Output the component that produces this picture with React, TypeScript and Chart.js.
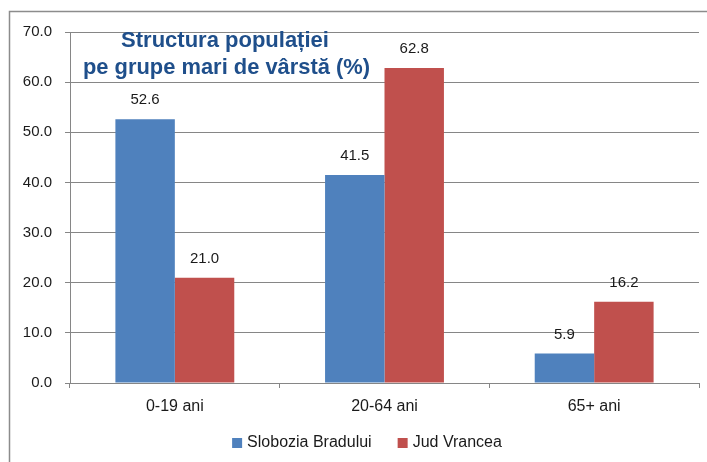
import React, { useEffect, useRef } from "react";
import { Chart, registerables } from "chart.js";

Chart.register(...registerables);

const categories = ["0-19 ani", "20-64 ani", "65+ ani"];
const sloboziaValues = [52.6, 41.5, 5.9];
const vranceaValues = [21.0, 62.8, 16.2];
const seriesNames = ["Slobozia Bradului", "Jud Vrancea"];
const seriesColors = ["#4f81bd", "#c0504d"];
const titleLines = ["Structura populației", "pe grupe mari de vârstă (%)"];
const yTicks = { min: 0, max: 70, step: 10 };

const FONT = "'Liberation Sans', Arial, sans-serif";

const frame = {
  id: "frame",
  beforeDraw(chart: any) {
    const ctx = chart.ctx;
    ctx.save();
    ctx.fillStyle = "#ffffff";
    ctx.fillRect(0, 0, chart.width, chart.height);
    ctx.strokeStyle = "#8c8c8c";
    ctx.lineWidth = 1.5;
    ctx.strokeRect(9.5, 11.5, chart.width + 20, chart.height + 20);
    ctx.restore();
  },
};

const valueLabels = {
  id: "valueLabels",
  afterDatasetsDraw(chart: any) {
    const ctx = chart.ctx;
    ctx.save();
    ctx.font = `15px ${FONT}`;
    ctx.fillStyle = "#1a1a1a";
    ctx.textAlign = "center";
    ctx.textBaseline = "middle";
    chart.data.datasets.forEach((ds: any, i: number) => {
      const meta = chart.getDatasetMeta(i);
      meta.data.forEach((bar: any, j: number) => {
        ctx.fillText(Number(ds.data[j]).toFixed(1), bar.x, bar.y - 19, 32);
      });
    });
    ctx.restore();
  },
};

const titleText = {
  id: "titleText",
  afterDraw(chart: any) {
    const ctx = chart.ctx;
    ctx.save();
    ctx.font = `bold 22px ${FONT}`;
    ctx.fillStyle = "#1f4f8b";
    ctx.textAlign = "center";
    ctx.textBaseline = "middle";
    ctx.fillText(titleLines[0], 225, 41, 210);
    ctx.fillText(titleLines[1], 226.5, 68, 287);
    ctx.restore();
  },
};

const customLegend = {
  id: "customLegend",
  afterDraw(chart: any) {
    const ctx = chart.ctx;
    ctx.save();
    ctx.font = `16px ${FONT}`;
    ctx.textBaseline = "middle";
    ctx.textAlign = "left";
    const box = 10;
    const gapText = 5;
    const gapItem = 26;
    const dsets = chart.data.datasets;
    const widths = dsets.map((d: any) => box + gapText + ctx.measureText(d.label).width);
    const total = widths.reduce((a: number, b: number) => a + b, 0) + gapItem * (dsets.length - 1);
    let x = 367 - total / 2;
    const y = 443;
    dsets.forEach((d: any, i: number) => {
      ctx.fillStyle = d.backgroundColor;
      ctx.fillRect(x, y - box / 2, box, box);
      ctx.fillStyle = "#1a1a1a";
      ctx.fillText(d.label, x + box + gapText, y);
      x += widths[i] + gapItem;
    });
    ctx.restore();
  },
};

export default function App() {
  const ref = useRef<HTMLCanvasElement | null>(null);
  useEffect(() => {
    if (!ref.current) return;
    const chart = new Chart(ref.current, {
      type: "bar",
      data: {
        labels: categories,
        datasets: [
          {
            label: seriesNames[0],
            data: sloboziaValues,
            backgroundColor: seriesColors[0],
            categoryPercentage: 0.567,
            barPercentage: 1,
          },
          {
            label: seriesNames[1],
            data: vranceaValues,
            backgroundColor: seriesColors[1],
            categoryPercentage: 0.567,
            barPercentage: 1,
          },
        ],
      },
      options: {
        animation: false,
        responsive: false,
        maintainAspectRatio: false,
        layout: { padding: { left: 0, top: 32, right: 8, bottom: 0 } },
        plugins: {
          legend: { display: false },
          tooltip: { enabled: false },
          title: { display: false },
        },
        scales: {
          x: {
            grid: {
              display: true,
              drawOnChartArea: false,
              drawTicks: true,
              tickLength: 5,
              color: "#868686",
              offset: true,
            },
            border: { color: "#868686", width: 1 },
            ticks: {
              color: "#1a1a1a",
              padding: 9,
              font: { family: FONT, size: 16 },
            },
            afterFit(scale: any) {
              scale.height = 79;
            },
          },
          y: {
            min: yTicks.min,
            max: yTicks.max,
            ticks: {
              stepSize: yTicks.step,
              color: "#1a1a1a",
              padding: 13,
              font: { family: FONT, size: 15 },
              callback: (v: any) => Number(v).toFixed(1),
            },
            grid: { color: "#868686", tickLength: 5 },
            border: { color: "#868686", width: 1 },
            afterFit(scale: any) {
              scale.width = 70;
            },
          },
        },
      },
      plugins: [frame, valueLabels, titleText, customLegend],
    });
    return () => chart.destroy();
  }, []);
  return (
    <div style={{ position: "fixed", left: 0, top: 0, width: 707, height: 462 }}>
      <canvas ref={ref} width={707} height={462} style={{ display: "block" }} />
    </div>
  );
}
